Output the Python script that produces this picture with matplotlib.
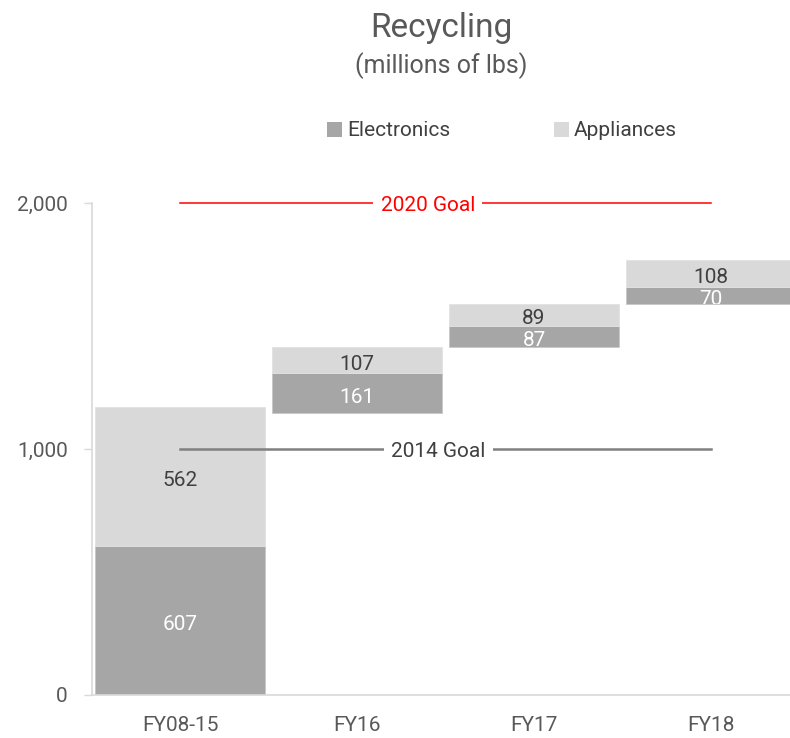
import matplotlib
matplotlib.use("Agg")
import matplotlib.pyplot as plt
from matplotlib.patches import Patch

plt.rcParams['font.family'] = ['Roboto', 'DejaVu Sans']

categories = ["FY08-15", "FY16", "FY17", "FY18"]
electronics = [607, 161, 87, 70]
appliances = [562, 107, 89, 108]
bar_start = [0, 1146, 1414, 1590]
goal_2020 = 2000
goal_2014 = 1000
y_ticks = [0, 1000, 2000]
y_tick_labels = ["0", "1,000", "2,000"]

c_elec = "#a6a6a6"
c_app = "#d9d9d9"
c_text = "#404040"
c_tick = "#595959"
fs = 15
dy = -3  # points, visual centering of digits

fig = plt.figure(figsize=(7.9, 7.38), dpi=100)
ax = fig.add_axes([91.5 / 790, 43 / 738, 708 / 790, 492 / 738])

x = list(range(len(categories)))
width = 0.96
elec_bars = ax.bar(x, electronics, width, bottom=bar_start, color=c_elec,
                   edgecolor="#c8c8c8", linewidth=0.6, zorder=2)
app_bottom = [b + e for b, e in zip(bar_start, electronics)]
app_bars = ax.bar(x, appliances, width, bottom=app_bottom, color=c_app,
                  edgecolor="#e2e2e2", linewidth=0.6, zorder=2)

for i in x:
    eb = elec_bars[i]
    t = ax.annotate(str(electronics[i]), (i, bar_start[i] + electronics[i] / 2),
                    xytext=(0, dy), textcoords="offset points",
                    ha="center", va="center", color="white", fontsize=fs, zorder=5)
    t.set_clip_path(eb)
    ax.annotate(str(appliances[i]), (i, app_bottom[i] + appliances[i] / 2),
                xytext=(0, dy), textcoords="offset points",
                ha="center", va="center", color=c_text, fontsize=fs, zorder=5)

# goal lines
ax.plot([0, 3], [goal_2020, goal_2020], color="#ff0000", lw=1.1, zorder=3, clip_on=False)
ax.annotate("2020 Goal", (1.4, goal_2020), xytext=(0, -2), textcoords="offset points",
            ha="center", va="center", color="#ff0000", fontsize=fs, zorder=4,
            annotation_clip=False,
            bbox=dict(boxstyle="square,pad=0.35", fc="white", ec="none"))
ax.plot([0, 3], [goal_2014, goal_2014], color="#808080", lw=1.8, zorder=3)
ax.annotate("2014 Goal", (1.46, goal_2014), xytext=(0, -2), textcoords="offset points",
            ha="center", va="center", color=c_text, fontsize=fs, zorder=4,
            bbox=dict(boxstyle="square,pad=0.35", fc="white", ec="none"))

ax.set_xlim(-0.5, 3.5)
ax.set_ylim(0, 2000)
ax.set_xticks(x)
ax.set_xticklabels(categories, fontsize=fs, color=c_tick)
ax.set_yticks(y_ticks)
ax.set_yticklabels(y_tick_labels, fontsize=fs, color=c_tick)
ax.tick_params(axis="x", length=0, pad=15)
ax.tick_params(axis="y", length=6, width=1, color="#d9d9d9", pad=11)
for s in ["top", "right"]:
    ax.spines[s].set_visible(False)
for s in ["left", "bottom"]:
    ax.spines[s].set_color("#d9d9d9")
    ax.spines[s].set_linewidth(1.2)
ax.spines["bottom"].set_zorder(6)

fig.text(441 / 790, 1 - 28 / 738, "Recycling", ha="center", va="center",
         fontsize=24, color=c_tick)
fig.text(441 / 790, 1 - 66 / 738, "(millions of lbs)", ha="center", va="center",
         fontsize=18, color=c_tick)

handles = [Patch(facecolor=c_elec, edgecolor="none", label="Electronics"),
           Patch(facecolor=c_app, edgecolor="none", label="Appliances")]
fig.legend(handles=handles, loc="center", bbox_to_anchor=(502 / 790, 1 - 131 / 738),
           ncol=2, frameon=False, fontsize=fs, handlelength=0.7, handleheight=0.7,
           handletextpad=0.25, columnspacing=5.0, labelcolor=c_text)

fig.savefig("out.png", dpi=100)
